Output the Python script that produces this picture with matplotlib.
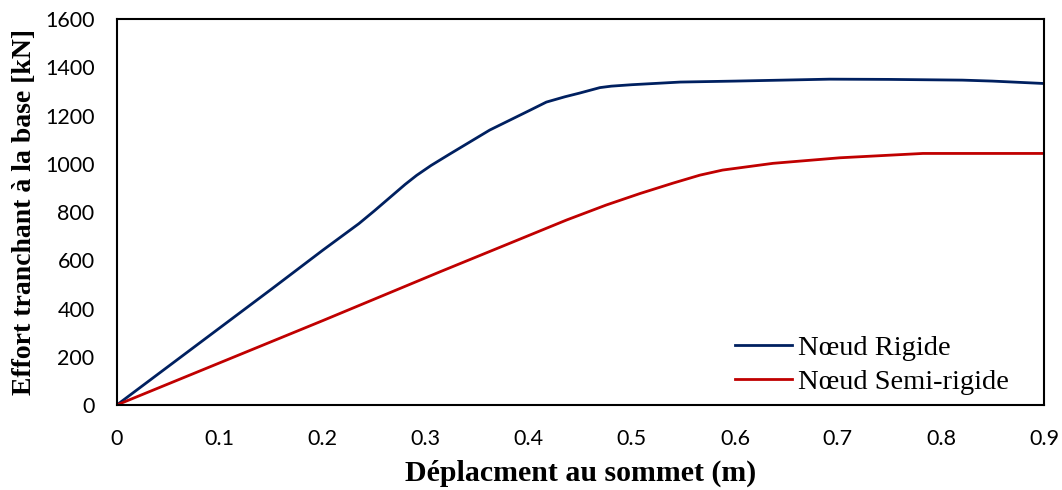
import matplotlib
matplotlib.use('Agg')
import matplotlib.pyplot as plt

# Nœud rigide (courbe bleue)
x_rigide = [0, 0.05, 0.1, 0.15, 0.2, 0.235, 0.25, 0.265, 0.28, 0.291, 0.305,
            0.323, 0.362, 0.401, 0.417, 0.435, 0.449, 0.469, 0.48, 0.5, 0.547,
            0.6, 0.692, 0.75, 0.821, 0.85, 0.9]
y_rigide = [0, 160, 320, 480, 642, 752, 805, 860, 915, 952, 993,
            1040, 1140, 1222, 1256, 1278, 1293, 1316, 1322, 1328, 1339,
            1343, 1351, 1350, 1347, 1343, 1333]

# Nœud semi-rigide (courbe rouge)
x_semi = [0, 0.1, 0.2, 0.3136, 0.38, 0.4366, 0.475, 0.508, 0.54, 0.566, 0.588,
          0.637, 0.702, 0.7825, 0.9]
y_semi = [0, 175, 350, 552, 668, 767, 829, 877, 920, 953, 974,
          1002, 1025, 1043, 1043]

xticks = [0, 0.1, 0.2, 0.3, 0.4, 0.5, 0.6, 0.7, 0.8, 0.9]
yticks = [0, 200, 400, 600, 800, 1000, 1200, 1400, 1600]

fig = plt.figure(figsize=(10.62, 4.9), dpi=100)
ax = fig.add_axes([0.110, 0.1735, 0.873, 0.7875])

ax.plot(x_rigide, y_rigide, color='#002060', lw=2.0, label='Nœud Rigide')
ax.plot(x_semi, y_semi, color='#C00000', lw=2.0, label='Nœud Semi-rigide')

ax.set_xlim(0, 0.9)
ax.set_ylim(0, 1600)
ax.set_xticks(xticks)
ax.set_xticklabels([f'{v:g}' for v in xticks])
ax.set_yticks(yticks)
ax.tick_params(length=0, labelsize=15.5)
ax.tick_params(axis='x', pad=17)
ax.tick_params(axis='y', pad=16)
for lab in ax.get_xticklabels() + ax.get_yticklabels():
    lab.set_family('Lato')
for s in ax.spines.values():
    s.set_linewidth(1.5)

ax.set_xlabel('Déplacment au sommet (m)', family='Liberation Serif',
              fontweight='bold', fontsize=21.5, labelpad=8)
ax.set_ylabel('Effort tranchant à la base [kN]', family='Liberation Serif',
              fontweight='bold', fontsize=20, labelpad=6)

ax.legend(loc='lower right', bbox_to_anchor=(0.962, 0.025), frameon=False,
          prop={'family': 'Liberation Serif', 'size': 20.5},
          handlelength=2.0, handletextpad=0.2, labelspacing=0.3,
          borderpad=0, borderaxespad=0)

fig.savefig('out.png', dpi=100)
